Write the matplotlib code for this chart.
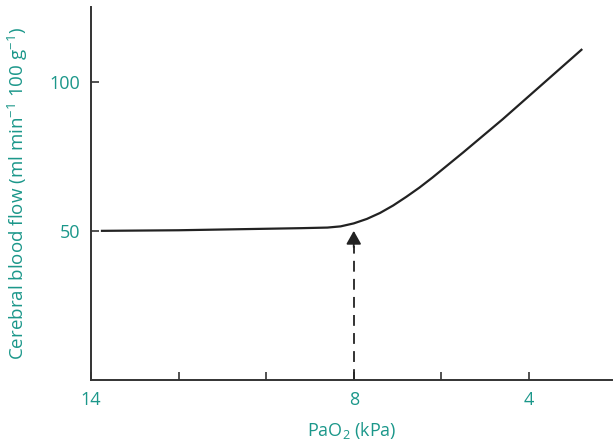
import matplotlib.pyplot as plt

# PaO2 (kPa) vs cerebral blood flow
pao2 = [13.75, 12, 10.4, 9.2, 8.6, 8.3, 8.0, 7.7, 7.4, 7.1, 6.8, 6.5, 6.2, 5.9, 5.5, 4.6, 2.8]
cbf = [50, 50.2, 50.6, 50.9, 51.1, 51.5, 52.5, 54.0, 56.0, 58.5, 61.4, 64.5, 67.9, 71.5, 76.3, 87.4, 110.7]
threshold = 8
xticks = [14, 12, 10, 8, 6, 4]
xticklabels = ['14', '', '', '8', '', '4']
yticks = [50, 100]

teal = '#1b978a'
dark = '#222222'
plt.rcParams['font.family'] = ['Open Sans', 'DejaVu Sans']
plt.rcParams['mathtext.fontset'] = 'custom'
plt.rcParams['mathtext.rm'] = 'Open Sans'
plt.rcParams['mathtext.default'] = 'regular'

fig = plt.figure(figsize=(6.13, 4.46), dpi=100)
ax = fig.add_axes([0.1485, 0.148, 0.85, 0.836])

ax.plot(pao2, cbf, color=dark, linewidth=1.6, solid_joinstyle='round')

# dashed arrow up to the break point
ax.plot([threshold, threshold], [0, 45], color=dark, linewidth=1.3, linestyle=(0, (6, 4)))
ax.annotate('', xy=(threshold, 50), xytext=(threshold, 44.5),
            arrowprops=dict(arrowstyle='-|>,head_length=0.8,head_width=0.45',
                            color=dark, linewidth=1.3, shrinkA=0, shrinkB=0))

ax.set_xlim(14, 2.1)
ax.set_ylim(0, 125)
ax.set_xticks(xticks)
ax.set_xticklabels(xticklabels)
ax.set_yticks(yticks)

for s in ['top', 'right']:
    ax.spines[s].set_visible(False)
for s in ['left', 'bottom']:
    ax.spines[s].set_color('#333333')
    ax.spines[s].set_linewidth(1.4)

ax.tick_params(direction='in', length=6, width=1.2, color='#333333',
               labelcolor=teal, labelsize=13)
ax.tick_params(axis='x', pad=8)
ax.tick_params(axis='y', pad=8)

ax.set_xlabel('PaO$_2$ (kPa)', color=teal, fontsize=13, labelpad=8)
ax.set_ylabel('Cerebral blood flow (ml min$^{-1}$ 100 g$^{-1}$)', color=teal,
              fontsize=13.5, labelpad=14)

fig.savefig('out.png', dpi=100)
